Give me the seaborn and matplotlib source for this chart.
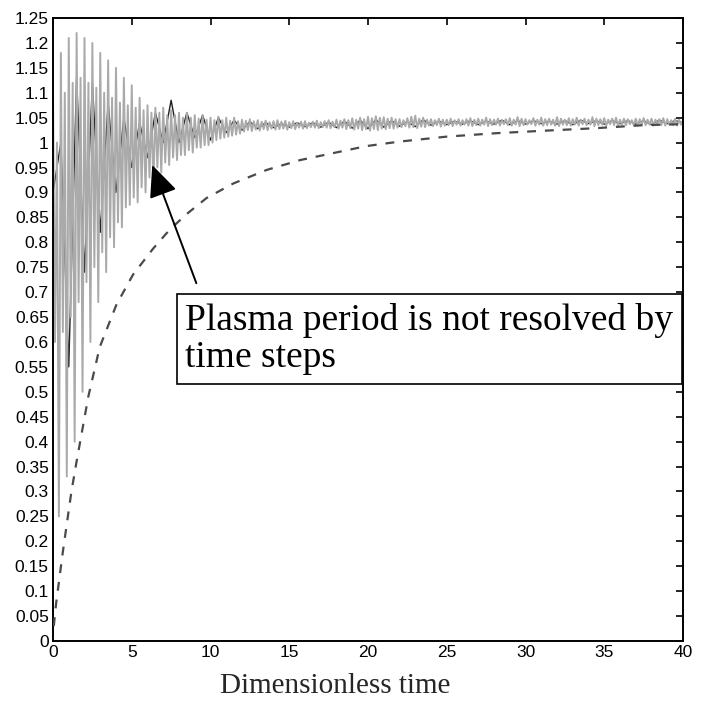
""" Plasma oscillation vs. time steps """

import numpy as np
import matplotlib
matplotlib.use("Agg")
import matplotlib.pyplot as plt
from matplotlib.ticker import FormatStrFormatter
import seaborn as sns

# fine signal (grey), one value every 0.125 time units from t = 0 to 40
fine_dt = 0.125
fine_vals = [
    # t = 0 .. 11.875, blocks of 0.5
    1.10, 0.60, 1.00, 0.25,   1.18, 0.62, 1.10, 0.33,
    1.21, 0.65, 1.12, 0.40,   1.22, 0.68, 1.13, 0.50,
    1.21, 0.72, 1.12, 0.60,   1.20, 0.75, 1.11, 0.68,
    1.18, 0.78, 1.10, 0.74,   1.165, 0.81, 1.09, 0.79,
    1.15, 0.84, 1.08, 0.83,   1.13, 0.87, 1.075, 0.875,
    1.115, 0.89, 1.07, 0.88,  1.09, 0.91, 1.065, 0.90,
    1.075, 0.93, 1.06, 0.915, 1.07, 0.95, 1.06, 0.94,
    1.07, 0.96, 1.055, 0.955, 1.065, 0.97, 1.055, 0.965,
    1.06, 0.975, 1.05, 0.975, 1.06, 0.985, 1.05, 0.98,
    1.055, 0.99, 1.048, 0.99, 1.055, 0.995, 1.046, 0.995,
    1.05, 1.0, 1.045, 1.005,  1.052, 1.008, 1.045, 1.01,
    1.05, 1.012, 1.044, 1.014, 1.05, 1.016, 1.043, 1.018,
    # t = 12 .. 39.875, one row per time unit
    1.046, 1.022, 1.044, 1.025, 1.047, 1.023, 1.043, 1.026,
    1.045, 1.024, 1.042, 1.027, 1.044, 1.025, 1.041, 1.028,
    1.043, 1.026, 1.045, 1.027, 1.042, 1.028, 1.044, 1.026,
    1.041, 1.029, 1.043, 1.027, 1.040, 1.030, 1.042, 1.028,
    1.043, 1.029, 1.040, 1.031, 1.042, 1.030, 1.044, 1.029,
    1.041, 1.031, 1.043, 1.030, 1.045, 1.029, 1.042, 1.031,
    1.046, 1.028, 1.044, 1.030, 1.047, 1.027, 1.045, 1.029,
    1.049, 1.026, 1.046, 1.028, 1.050, 1.025, 1.047, 1.027,
    1.052, 1.024, 1.049, 1.027, 1.053, 1.025, 1.050, 1.028,
    1.051, 1.027, 1.048, 1.029, 1.050, 1.028, 1.047, 1.030,
    1.047, 1.031, 1.045, 1.033, 1.049, 1.030, 1.052, 1.031,
    1.054, 1.029, 1.048, 1.032, 1.050, 1.031, 1.046, 1.034,
    1.047, 1.033, 1.045, 1.035, 1.048, 1.032, 1.046, 1.034,
    1.046, 1.035, 1.048, 1.033, 1.045, 1.036, 1.047, 1.034,
    1.045, 1.036, 1.047, 1.034, 1.049, 1.033, 1.046, 1.035,
    1.048, 1.034, 1.046, 1.036, 1.050, 1.033, 1.047, 1.035,
    1.046, 1.036, 1.048, 1.034, 1.045, 1.037, 1.047, 1.035,
    1.049, 1.034, 1.046, 1.036, 1.051, 1.033, 1.048, 1.035,
    1.047, 1.036, 1.045, 1.037, 1.049, 1.034, 1.046, 1.036,
    1.050, 1.034, 1.047, 1.035, 1.048, 1.036, 1.046, 1.034,
    1.051, 1.033, 1.048, 1.036, 1.046, 1.035, 1.049, 1.034,
    1.047, 1.036, 1.050, 1.034, 1.046, 1.037, 1.048, 1.035,
    1.046, 1.036, 1.051, 1.033, 1.048, 1.035, 1.047, 1.036,
    1.049, 1.034, 1.046, 1.037, 1.048, 1.035, 1.050, 1.034,
    1.046, 1.036, 1.048, 1.035, 1.047, 1.037, 1.045, 1.035,
    1.048, 1.034, 1.047, 1.036, 1.049, 1.035, 1.046, 1.036,
    1.048, 1.034, 1.046, 1.037, 1.047, 1.035, 1.049, 1.034,
    1.047, 1.036, 1.045, 1.035, 1.048, 1.034, 1.046, 1.036,
    1.044,
]

# coarse signal (dark), one value every 0.5 time units
coarse_dt = 0.5
coarse_vals = [
    0.9, 1.0, 0.55, 1.13, 0.74, 1.12, 0.82, 1.08,
    0.9, 1.05, 0.95, 1.04, 0.97, 1.06, 1.0, 1.085,
    1.0, 1.06, 1.01, 1.055, 1.005, 1.05, 1.02, 1.045,
    1.025, 1.042, 1.028, 1.04, 1.03, 1.038, 1.031, 1.04,
    1.032, 1.04, 1.031, 1.041, 1.03, 1.043, 1.029, 1.045,
    1.028, 1.046, 1.031, 1.044, 1.033, 1.042, 1.032, 1.046,
    1.035, 1.043, 1.036, 1.043, 1.037, 1.044, 1.036, 1.043,
    1.037, 1.045, 1.036, 1.044, 1.037, 1.044, 1.038, 1.043,
    1.037, 1.044, 1.036, 1.045, 1.038, 1.044, 1.037, 1.044,
    1.038, 1.044, 1.037, 1.044, 1.036, 1.045, 1.038, 1.044,
    1.04,
]

# smooth (dashed) curve
smooth_t = [0.05, 0.2, 0.63, 1.17, 1.48, 2.24, 2.97, 4.03, 5.08, 6.35, 7.4, 8.5,
            9.76, 11.45, 13.55, 15.7, 17.8, 19.9, 22, 25, 28.2, 31.3, 34.5, 37.5, 40]
smooth_v = [0.03, 0.076, 0.18, 0.30, 0.357, 0.49, 0.59, 0.675, 0.735, 0.787, 0.825, 0.857,
            0.889, 0.918, 0.945, 0.965, 0.979, 0.993, 1.002, 1.012, 1.019, 1.024, 1.029, 1.035, 1.037]

fine_t = np.arange(len(fine_vals)) * fine_dt
coarse_t = np.arange(len(coarse_vals)) * coarse_dt

sns.set_style("white")
plt.rcParams['font.family'] = ['Liberation Sans Narrow', 'Liberation Sans', 'DejaVu Sans']

fig = plt.figure(figsize=(7.03, 7.09), dpi=100)
ax = fig.add_axes([53 / 703, 1 - 641 / 709, 630 / 703, 623 / 709])

# dark coarse signal sits under the grey one, showing through the gaps
sns.lineplot(x=coarse_t, y=coarse_vals, ax=ax, color="#202020", lw=1.0, errorbar=None, zorder=1)
sns.lineplot(x=fine_t, y=fine_vals, ax=ax, color="#aaaaaa", lw=1.4, errorbar=None, zorder=2)
sns.lineplot(x=smooth_t, y=smooth_v, ax=ax, color="#4a4a4a", lw=1.6,
             linestyle=(0, (4, 4)), errorbar=None, zorder=3)

ax.set_xlim(0, 40)
ax.set_ylim(0, 1.25)
ax.set_xticks(np.arange(0, 41, 5))
ax.set_yticks(np.arange(0, 1.2501, 0.05))
ax.yaxis.set_major_formatter(FormatStrFormatter('%g'))
ax.tick_params(direction='in', top=True, right=True, length=5, width=1.2,
               labelsize=12.5, pad=3, colors='black')
for s in ax.spines.values():
    s.set_color('black')
    s.set_linewidth(1.4)
ax.set_xlabel('')
ax.set_ylabel('')

# arrow pointing at the unresolved oscillation
ax.annotate('', xy=(6.3, 0.955), xytext=(9.1, 0.718),
            arrowprops=dict(arrowstyle='-|>,head_length=0.9,head_width=0.4', color='black',
                            lw=1.4, mutation_scale=22, shrinkA=0, shrinkB=0), zorder=5)

ax.text(0.21, 0.543, "Plasma period is not resolved by\ntime steps", transform=ax.transAxes,
        ha='left', va='top', fontsize=27, family='Liberation Serif', linespacing=1.12,
        color='black', zorder=6,
        bbox=dict(boxstyle='square,pad=0.22', fc='white', ec='black', lw=1.2))

fig.text(335 / 703, 1 - 686 / 709, 'Dimensionless time', ha='center', va='center',
         fontsize=21, family='Liberation Serif')

fig.savefig("out.png", dpi=100)
